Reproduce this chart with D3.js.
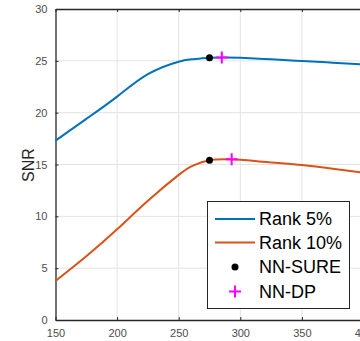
<!DOCTYPE html>
<html>
<head>
<meta charset="utf-8">
<script src="https://cdn.jsdelivr.net/npm/d3@7"></script>
<style>
  html, body { margin: 0; padding: 0; background: #fff; }
  svg { display: block; }
</style>
</head>
<body>
<svg id="chart" width="360" height="341"></svg>
<script>
// Rank values (x) and SNR for the two rank settings
const ranks = [150, 175, 200, 225, 250, 262, 275, 287, 300, 325, 350, 375, 400];
const snrRank5 = [17.3, 19.4, 21.55, 23.72, 24.92, 25.16, 25.3, 25.33, 25.3, 25.15, 24.98, 24.82, 24.65];
const snrRank10 = [3.77, 6.15, 8.75, 11.5, 14.0, 14.92, 15.4, 15.5, 15.45, 15.2, 14.95, 14.6, 14.2];

// Selected ranks: NN-SURE and NN-DP for each series
const sureX = [275, 275];
const sureY = [25.3, 15.4];
const dpX = [285, 293];
const dpY = [25.33, 15.5];

const xTicks = [150, 200, 250, 300, 350, 400];
const yTicks = [0, 5, 10, 15, 20, 25, 30];
const legendLabels = ["Rank 5%", "Rank 10%", "NN-SURE", "NN-DP"];

const colors = { blue: "#0072BD", orange: "#D95319", axis: "#262626", grid: "#e3e3e3", magenta: "#FF00FF" };

const svg = d3.select("#chart");
const plotLeft = 55.5, plotRight = 363.5, plotTop = 9, plotBottom = 320;

const x = d3.scaleLinear().domain([150, 400]).range([plotLeft, plotRight]);
const y = d3.scaleLinear().domain([0, 30]).range([plotBottom, plotTop]);

// grid
const grid = svg.append("g");
grid.selectAll(".gx").data(xTicks.slice(1, -1)).join("line")
  .attr("x1", d => x(d)).attr("x2", d => x(d)).attr("y1", plotTop).attr("y2", plotBottom)
  .attr("stroke", colors.grid).attr("stroke-width", 1);
grid.selectAll(".gy").data(yTicks.slice(1, -1)).join("line")
  .attr("x1", plotLeft).attr("x2", plotRight).attr("y1", d => y(d)).attr("y2", d => y(d))
  .attr("stroke", colors.grid).attr("stroke-width", 1);

// axes with inward ticks on all four sides
function styleAxis(g) {
  g.select(".domain").attr("stroke", colors.axis).attr("stroke-width", 1.3);
  g.selectAll(".tick line").attr("stroke", colors.axis);
  g.selectAll(".tick text").attr("fill", "#4d4d4d")
    .attr("font-family", "Liberation Sans, Arial, sans-serif").attr("font-size", 11);
}
svg.append("g").attr("transform", `translate(0,${plotBottom})`)
  .call(d3.axisBottom(x).tickValues(xTicks).tickSizeInner(-3).tickSizeOuter(0).tickPadding(9))
  .call(styleAxis);
svg.append("g").attr("transform", `translate(0,${plotTop})`)
  .call(d3.axisTop(x).tickValues(xTicks).tickSizeInner(-3).tickSizeOuter(0).tickFormat(""))
  .call(styleAxis);
svg.append("g").attr("transform", `translate(${plotLeft},0)`)
  .call(d3.axisLeft(y).tickValues(yTicks).tickSizeInner(-3).tickSizeOuter(0).tickPadding(8))
  .call(styleAxis);
svg.append("g").attr("transform", `translate(${plotRight},0)`)
  .call(d3.axisRight(y).tickValues(yTicks).tickSizeInner(-3).tickSizeOuter(0).tickFormat(""))
  .call(styleAxis);

// y-axis title
svg.append("text")
  .attr("transform", `translate(34,165) rotate(-90)`)
  .attr("text-anchor", "middle")
  .attr("font-family", "Liberation Sans, Arial, sans-serif").attr("font-size", 16)
  .attr("fill", colors.axis).text("SNR");

// curves
const line = d3.line().x(d => x(d[0])).y(d => y(d[1])).curve(d3.curveNatural);
[[snrRank5, colors.blue], [snrRank10, colors.orange]].forEach(([vals, c]) => {
  svg.append("path").datum(ranks.map((r, i) => [r, vals[i]]))
    .attr("d", line).attr("fill", "none").attr("stroke", c).attr("stroke-width", 2);
});

// NN-SURE markers
svg.selectAll(".sure").data(sureX).join("circle")
  .attr("cx", d => x(d)).attr("cy", (d, i) => y(sureY[i])).attr("r", 3.5).attr("fill", "#000");

// NN-DP markers
const plus = (cx, cy, s) => `M${cx - s},${cy}H${cx + s}M${cx},${cy - s}V${cy + s}`;
svg.selectAll(".dp").data(dpX).join("path")
  .attr("d", (d, i) => plus(x(d), y(dpY[i]), 6))
  .attr("stroke", colors.magenta).attr("stroke-width", 2).attr("fill", "none");

// legend
const lg = svg.append("g");
lg.append("rect").attr("x", 207.5).attr("y", 201.5).attr("width", 142).attr("height", 107)
  .attr("fill", "#fff").attr("stroke", colors.axis).attr("stroke-width", 1);
const rowY = [219, 242.5, 267, 291.5];
legendLabels.forEach((lab, i) => {
  const cy = rowY[i];
  if (i < 2) {
    lg.append("line").attr("x1", 215).attr("x2", 255).attr("y1", cy).attr("y2", cy)
      .attr("stroke", i === 0 ? colors.blue : colors.orange).attr("stroke-width", 2);
  } else if (i === 2) {
    lg.append("circle").attr("cx", 235).attr("cy", cy).attr("r", 3.5).attr("fill", "#000");
  } else {
    lg.append("path").attr("d", plus(235, cy, 6)).attr("stroke", colors.magenta)
      .attr("stroke-width", 2).attr("fill", "none");
  }
  lg.append("text").attr("x", 259).attr("y", cy).attr("dy", "0.36em")
    .attr("font-family", "Liberation Sans, Arial, sans-serif").attr("font-size", 18)
    .attr("fill", "#000").text(lab);
});
</script>
</body>
</html>
